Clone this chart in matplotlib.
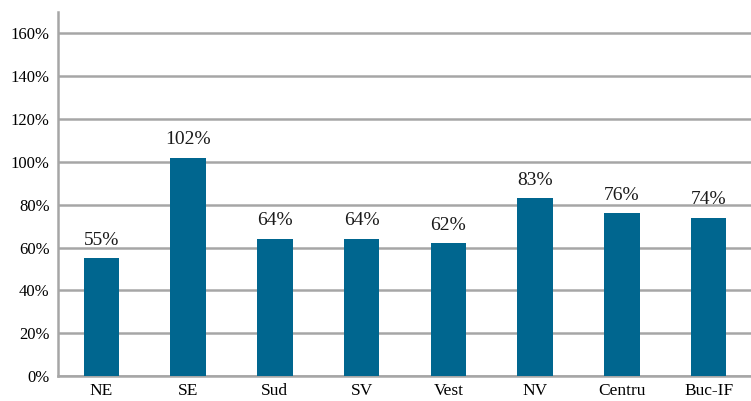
import matplotlib
matplotlib.use("Agg")
import matplotlib.pyplot as plt
import numpy as np

categories = ["NE", "SE", "Sud", "SV", "Vest", "NV", "Centru", "Buc-IF"]
values = [55, 102, 64, 64, 62, 83, 76, 74]
yticks = [0, 20, 40, 60, 80, 100, 120, 140, 160]

plt.rcParams['font.family'] = ['Liberation Serif', 'DejaVu Serif']

fig = plt.figure(figsize=(7.51, 4.01), dpi=100)
ax = fig.add_axes([0.0772, 0.0623, 0.93, 0.908])

x = np.arange(len(categories))
ax.bar(x, values, width=0.41, color="#00668F", zorder=3)
for xi, v in zip(x, values):
    ax.text(xi, v + 4.5, f"{v}%", ha="center", va="bottom", fontsize=14, color="#1a1a1a")

ax.set_xlim(-0.5, len(categories) - 0.45)
ax.set_ylim(0, 170)
ax.set_yticks(yticks)
ax.set_yticklabels([f"{t}%" for t in yticks], fontsize=12)
ax.set_xticks(x)
ax.set_xticklabels(categories, fontsize=12.5)
ax.tick_params(axis="y", length=0, pad=6)
ax.tick_params(axis="x", length=0, pad=5)
ax.yaxis.grid(True, color="#A6A6A6", linewidth=1.8, zorder=0)
ax.set_axisbelow(True)
for s in ["top", "right"]:
    ax.spines[s].set_visible(False)
for s in ["left", "bottom"]:
    ax.spines[s].set_color("#A6A6A6")
    ax.spines[s].set_linewidth(1.8)

fig.savefig("out.png", dpi=100)
